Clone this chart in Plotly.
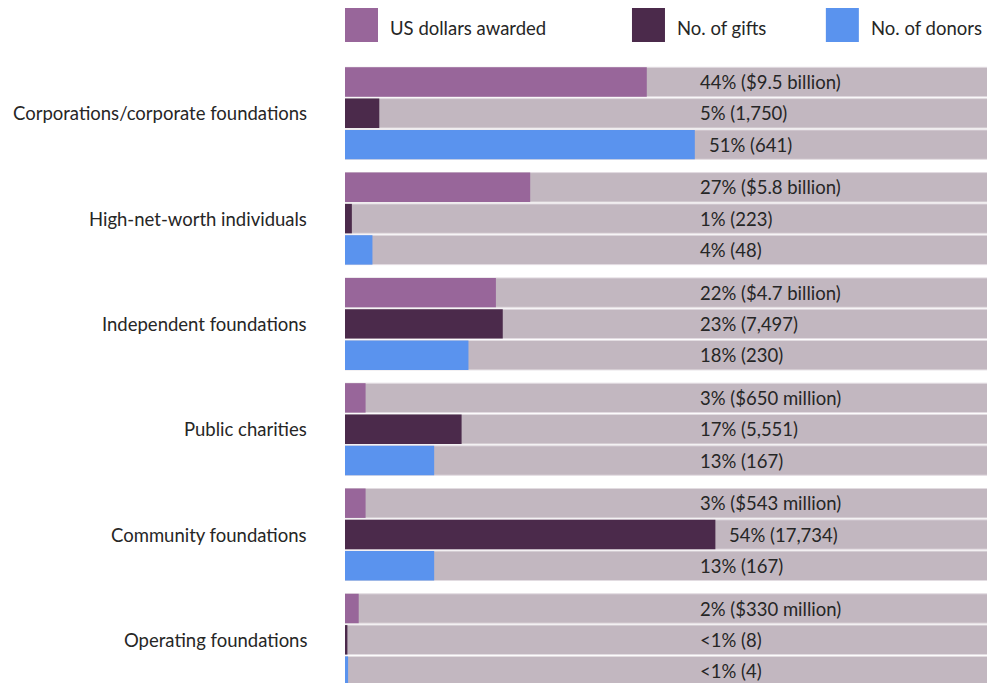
import plotly.graph_objects as go

categories = [
    "Corporations/corporate foundations",
    "High-net-worth individuals",
    "Independent foundations",
    "Public charities",
    "Community foundations",
    "Operating foundations",
]
series_names = ["US dollars awarded", "No. of gifts", "No. of donors"]
dollars_pct = [44, 27, 22, 3, 3, 2]
gifts_pct = [5, 1, 23, 17, 54, 0.35]
donors_pct = [51, 4, 18, 13, 13, 0.45]
dollars_labels = ["44% ($9.5 billion)", "27% ($5.8 billion)", "22% ($4.7 billion)",
                  "3% ($650 million)", "3% ($543 million)", "2% ($330 million)"]
gifts_labels = ["5% (1,750)", "1% (223)", "23% (7,497)", "17% (5,551)",
                "54% (17,734)", "<1% (8)"]
donors_labels = ["51% (641)", "4% (48)", "18% (230)", "13% (167)",
                 "13% (167)", "<1% (4)"]

colors = ["#98669a", "#4b2a4b", "#5a93ee"]
bg_color = "#c2b7c0"
font_family = "Lato, 'Open Sans', sans-serif"
text_color = "#262626"
font_size = 18.5

# layout geometry (in bar-pitch units)
group_pitch = 3.364
bar_w = 0.94
x_max = 93.6
label_base = 51.4
label_pad = 1.75

series_vals = [dollars_pct, gifts_pct, donors_pct]
series_labels = [dollars_labels, gifts_labels, donors_labels]

fig = go.Figure()
annotations = []
for j, (name, vals, labs) in enumerate(zip(series_names, series_vals, series_labels)):
    ys = [g * group_pitch + j for g in range(len(categories))]
    fig.add_trace(go.Bar(
        x=[100] * len(categories), y=ys, orientation="h", width=bar_w,
        marker=dict(color=bg_color, line=dict(color="#e2dce1", width=1)),
        hoverinfo="skip", showlegend=False,
    ))
    fig.add_trace(go.Bar(
        x=vals, y=ys, orientation="h", width=bar_w,
        marker=dict(color=colors[j], line=dict(width=0)),
        name=name, showlegend=False, hoverinfo="skip",
    ))
    for v, y, t in zip(vals, ys, labs):
        annotations.append(dict(
            x=max(label_base, v + label_pad), y=y, xref="x", yref="y",
            text=t, showarrow=False, xanchor="left", yanchor="middle",
            font=dict(family=font_family, size=font_size, color=text_color),
        ))

for g, cat in enumerate(categories):
    annotations.append(dict(
        x=0, y=g * group_pitch + 1, xref="paper", yref="y", text=cat,
        showarrow=False, xanchor="right", yanchor="middle", xshift=-36,
        font=dict(family=font_family, size=font_size, color=text_color),
    ))

# custom legend
legend_x = [0.0, 0.447, 0.749]
shapes = []
for j, name in enumerate(series_names):
    x0 = legend_x[j]
    shapes.append(dict(type="rect", xref="paper", yref="paper",
                       x0=x0, x1=x0 + 0.0514, y0=1.0289, y1=1.0835,
                       fillcolor=colors[j], line=dict(width=0)))
    annotations.append(dict(
        x=x0 + 0.0514, y=1.051, xref="paper", yref="paper", text=name,
        showarrow=False, xanchor="left", yanchor="middle", xshift=10,
        font=dict(family=font_family, size=font_size, color=text_color),
    ))

fig.update_layout(
    width=987, height=683,
    margin=dict(l=345, r=0, t=60, b=0),
    barmode="overlay",
    plot_bgcolor="white", paper_bgcolor="white",
    xaxis=dict(range=[0, x_max], visible=False, fixedrange=True),
    yaxis=dict(range=[19.2, -0.703], visible=False, fixedrange=True),
    annotations=annotations, shapes=shapes,
    showlegend=False,
    hovermode=False,
)
fig.write_html(
    "out.html",
    config={"displayModeBar": False, "staticPlot": True},
    post_script="document.body.style.margin='0';document.body.style.overflow='hidden';",
)
